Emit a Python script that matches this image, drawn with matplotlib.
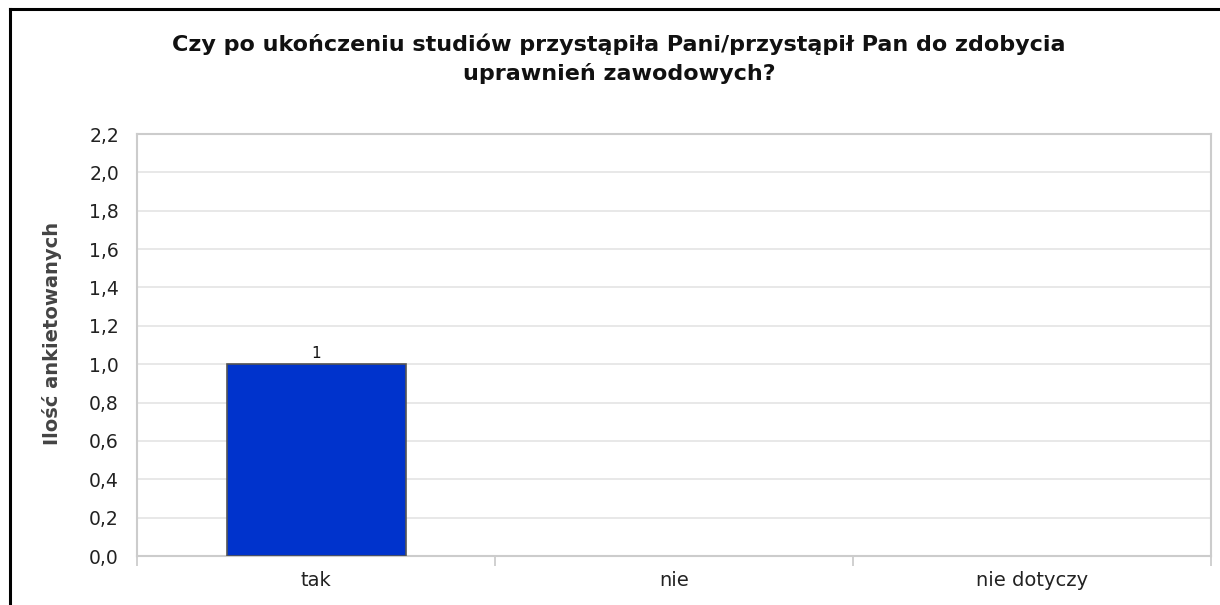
import matplotlib.pyplot as plt
from matplotlib.lines import Line2D
from matplotlib.ticker import FixedLocator, FuncFormatter

# chart data
categories = ["tak", "nie", "nie dotyczy"]
counts = [1, 0, 0]
y_ticks = [0.0, 0.2, 0.4, 0.6, 0.8, 1.0, 1.2, 1.4, 1.6, 1.8, 2.0, 2.2]

TITLE = "Czy po ukończeniu studiów przystąpiła Pani/przystąpił Pan do zdobycia\nuprawnień zawodowych?"
Y_LABEL = "Ilość ankietowanych"

W, H = 1220, 605
fig = plt.figure(figsize=(W / 100, H / 100), dpi=100)
fig.patch.set_facecolor("white")

# black frame (only left and top edges are visible in the crop)
fig.add_artist(Line2D([9.5 / W, 9.5 / W], [0, 1 - 8.5 / H], color="black", lw=2.2))
fig.add_artist(Line2D([9.5 / W, 1], [1 - 8.5 / H, 1 - 8.5 / H], color="black", lw=2.2))

ax = fig.add_axes([137 / W, (H - 556) / H, (1211 - 137) / W, (556 - 134) / H])

x = list(range(len(categories)))
bars = ax.bar(x, counts, width=0.5, color="#0033cc", edgecolor="#555555", linewidth=1.2, zorder=3)
for b, v in zip(bars, counts):
    if v == 0:
        b.set_linewidth(0)
    else:
        ax.text(b.get_x() + b.get_width() / 2, v + 0.015, str(v), ha="center", va="bottom",
                fontsize=11, color="#111111")

ax.set_xlim(-0.5, len(categories) - 0.5)
ax.set_ylim(0, 2.2)

# y axis
ax.set_yticks(y_ticks)
ax.yaxis.set_major_formatter(FuncFormatter(lambda v, p: f"{v:.1f}".replace(".", ",")))
ax.tick_params(axis="y", length=0, pad=13, labelsize=13.5, labelcolor="#222222")
ax.grid(axis="y", color="#e4e4e4", lw=1.2, zorder=0)

# x axis: marks at category boundaries, labels at centres
ax.xaxis.set_major_locator(FixedLocator([i - 0.5 for i in range(len(categories) + 1)]))
ax.xaxis.set_major_formatter(FuncFormatter(lambda v, p: ""))
ax.xaxis.set_minor_locator(FixedLocator(x))
ax.set_xticklabels(categories, minor=True)
ax.tick_params(axis="x", which="major", length=7, width=1.2, color="#c8c8c8", direction="out")
ax.tick_params(axis="x", which="minor", length=0, pad=11, labelsize=14, labelcolor="#222222")

for s in ax.spines.values():
    s.set_color("#cccccc")
    s.set_linewidth(1.5)

ax.set_ylabel(Y_LABEL, fontsize=14, fontweight="bold", color="#444444")
ax.yaxis.set_label_coords(-0.0698, 0.528)

fig.text(619 / W, 1 - 59 / H, TITLE, ha="center", va="center", fontsize=16,
         fontweight="bold", color="#111111", linespacing=1.5)

fig.savefig("out.png", dpi=100)
